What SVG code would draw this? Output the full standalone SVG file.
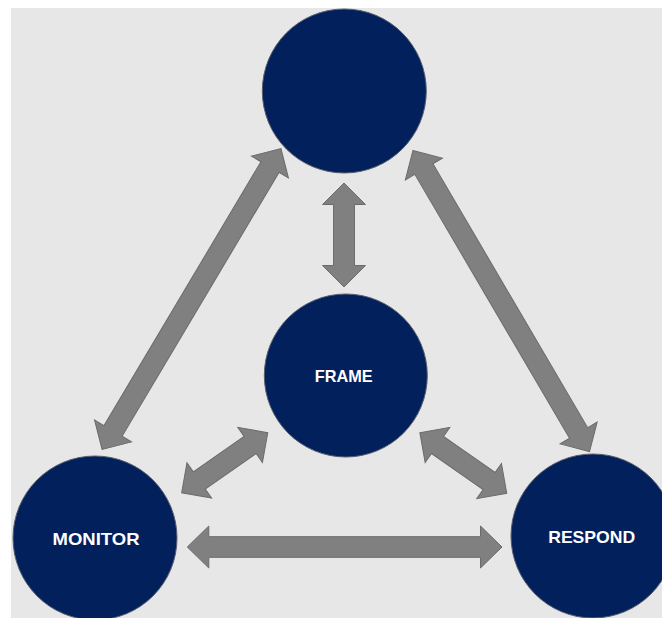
<svg xmlns="http://www.w3.org/2000/svg" width="662" height="618" viewBox="0 0 662 618">
  <style>
    .node { fill: #02205c; stroke: #5a5f6e; stroke-width: 1; }
    .arrow { fill: #808080; stroke: #6b6b6b; stroke-width: 1; stroke-linejoin: miter; }
    .label { fill: #ffffff; font-family: "Liberation Sans", Arial, sans-serif; font-weight: bold; font-size: 17px; text-anchor: middle; }
  </style>
  <rect x="0" y="0" width="662" height="618" fill="#ffffff"/>
  <rect x="11" y="8" width="651" height="610" fill="#e7e7e7"/>

  <g id="connectors">
    <polygon class="arrow" transform="translate(344,235) rotate(90)" points="-52,0 -30.5,-21.5 -30.5,-10.5 30.5,-10.5 30.5,-21.5 52,0 30.5,21.5 30.5,10.5 -30.5,10.5 -30.5,21.5"/>
    <polygon class="arrow" transform="translate(191.5,299) rotate(-59.26)" points="-175,0 -153.5,-21.5 -153.5,-10.5 153.5,-10.5 153.5,-21.5 175,0 153.5,21.5 153.5,10.5 -153.5,10.5 -153.5,21.5"/>
    <polygon class="arrow" transform="translate(501.25,301) rotate(59.62)" points="-174.5,0 -153,-21.5 -153,-10.5 153,-10.5 153,-21.5 174.5,0 153,21.5 153,10.5 -153,10.5 -153,21.5"/>
    <polygon class="arrow" transform="translate(224.7,462.7) rotate(-34.9)" points="-52.5,0 -31,-21.5 -31,-10.5 31,-10.5 31,-21.5 52.5,0 31,21.5 31,10.5 -31,10.5 -31,21.5"/>
    <polygon class="arrow" transform="translate(463.3,463) rotate(34.95)" points="-53,0 -31.5,-21.5 -31.5,-10.5 31.5,-10.5 31.5,-21.5 53,0 31.5,21.5 31.5,10.5 -31.5,10.5 -31.5,21.5"/>
    <polygon class="arrow" transform="translate(344.65,547)" points="-157.35,0 -135.85,-21 -135.85,-10.3 135.85,-10.3 135.85,-21 157.35,0 135.85,21 135.85,10.3 -135.85,10.3 -135.85,21"/>
  </g>

  <g id="node-top">
    <circle class="node" cx="344.3" cy="91" r="82"/>
  </g>
  <g id="node-frame">
    <circle class="node" cx="345.8" cy="375.5" r="81.5"/>
    <text class="label" x="343.7" y="382" textLength="58" lengthAdjust="spacingAndGlyphs">FRAME</text>
  </g>
  <g id="node-monitor">
    <circle class="node" cx="95" cy="538" r="82"/>
    <text class="label" x="96" y="545" textLength="87" lengthAdjust="spacingAndGlyphs">MONITOR</text>
  </g>
  <g id="node-respond">
    <circle class="node" cx="593" cy="536" r="82"/>
    <text class="label" x="591.7" y="543" textLength="87" lengthAdjust="spacingAndGlyphs">RESPOND</text>
  </g>
</svg>
